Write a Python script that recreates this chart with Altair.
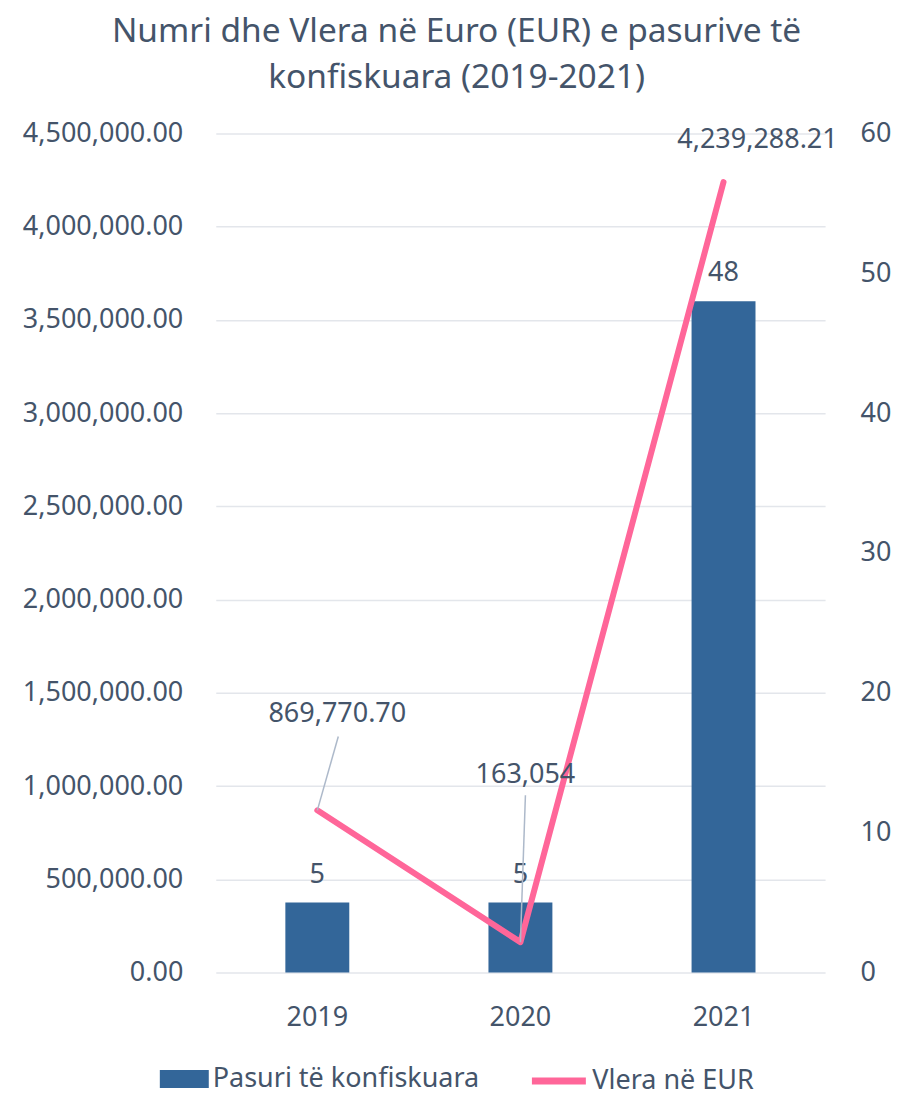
import altair as alt
import pandas as pd

years = ["2019", "2020", "2021"]
counts = [5, 5, 48]
values_eur = [869770.70, 163054, 4239288.21]
eur_labels = ["869,770.70", "163,054", "4,239,288.21"]
series_names = ["Pasuri të konfiskuara", "Vlera në EUR"]

df = pd.DataFrame({"year": years, "count": counts, "eur": values_eur, "eur_label": eur_labels,
                   "bar_series": [series_names[0]] * 3, "line_series": [series_names[1]] * 3})

FONT = "Noto Sans"
TXT = "#44546A"
BAR = "#336699"
LINE = "#FF6699"
FS = 27

x_enc = alt.X("year:N", title=None, sort=years,
              scale=alt.Scale(paddingInner=0, paddingOuter=0),
              axis=alt.Axis(labelAngle=0, ticks=False, domain=False, labelPadding=32,
                            labelFontSize=FS, labelColor=TXT, labelFont=FONT))

bar_legend = alt.Legend(
    title=None, orient="none", legendX=-56, legendY=922, direction="horizontal",
    labelFontSize=FS, labelColor=TXT, labelFont=FONT, symbolSize=2401, labelLimit=500,
    symbolType="M-1,-0.367H1V0.367H-1Z", symbolStrokeWidth=0, labelOffset=4,
)
line_legend = alt.Legend(
    title=None, orient="none", legendX=313, legendY=918, direction="horizontal",
    labelFontSize=FS, labelColor=TXT, labelFont=FONT, symbolSize=2916, labelLimit=500,
    symbolType="stroke", symbolStrokeWidth=7, labelOffset=3,
)

base = alt.Chart(df)

y_count = alt.Y("count:Q", title=None, scale=alt.Scale(domain=[0, 60], nice=False),
                axis=alt.Axis(orient="right", values=[0, 10, 20, 30, 40, 50, 60], grid=False,
                              ticks=False, domain=False, labelPadding=35, labelFontSize=FS,
                              labelColor=TXT, labelFont=FONT))

bars = base.mark_bar(size=64).encode(
    x=x_enc, y=y_count,
    color=alt.Color("bar_series:N", scale=alt.Scale(domain=[series_names[0]], range=[BAR]),
                    legend=bar_legend),
)
bar_text = base.mark_text(dy=-28, fontSize=FS, color=TXT, font=FONT).encode(
    x=x_enc, y=y_count, text="count:Q")

y_eur = alt.Y("eur:Q", title=None,
              scale=alt.Scale(domain=[0, 4500000], nice=False),
              axis=alt.Axis(orient="left", values=[i * 500000 for i in range(10)], format=",.2f",
                            grid=True, gridColor="#E3E6EB", gridWidth=1.5, ticks=False, domain=False,
                            labelPadding=33, labelFontSize=FS, labelColor=TXT, labelFont=FONT))

line = base.mark_line(strokeWidth=6, strokeCap="round", strokeJoin="round").encode(
    x=x_enc, y=y_eur,
    stroke=alt.Stroke("line_series:N", scale=alt.Scale(domain=[series_names[1]], range=[LINE]),
                      legend=line_legend),
)

# label offsets (style) for each EUR label: (dx, dy) and leader-line end offsets
label_offsets = {"2019": (20, -96, 21, -74), "2020": (5, -167, 5, -147), "2021": (34, -42, None, None)}

eur_layers = [line]
for yr, (dx, dy, lx, ly) in label_offsets.items():
    sub = base.transform_filter(alt.datum.year == yr)
    if lx is not None:
        eur_layers.append(sub.mark_rule(color="#ADB9CA", strokeWidth=1.5, x2Offset=lx, y2Offset=ly).encode(
            x=x_enc, x2=alt.X2("year:N"), y=y_eur, y2=alt.Y2("eur:Q")))
    eur_layers.append(sub.mark_text(dx=dx, dy=dy, fontSize=FS, color=TXT, font=FONT).encode(
        x=x_enc, y=y_eur, text="eur_label:N"))

chart = alt.layer(
    alt.layer(bars, bar_text),
    alt.layer(*eur_layers),
).resolve_scale(y="independent").properties(
    width=610, height=840,
    padding={"left": 14, "top": 6, "right": 10, "bottom": 10},
    title=alt.Title(["Numri dhe Vlera në Euro (EUR) e pasurive të", "konfiskuara (2019-2021)"],
                    fontSize=33.5, fontWeight="normal", color=TXT, font=FONT, anchor="middle",
                    frame="bounds", lineHeight=46, offset=24),
).configure_view(stroke=None)

chart.save("out.html", embed_options={"renderer": "svg", "actions": False})
